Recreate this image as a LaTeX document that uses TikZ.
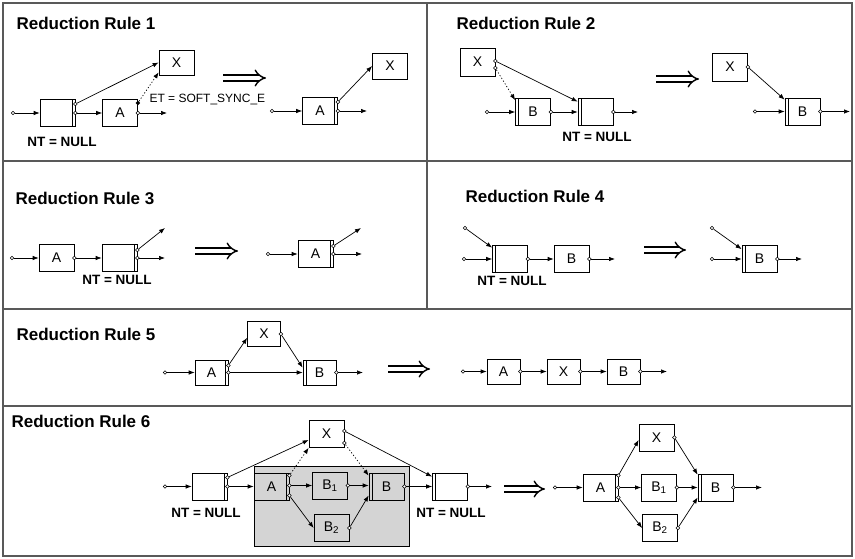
\documentclass[tikz,border=0pt]{standalone}
\usepackage{fontspec}
\setmainfont{Liberation Sans}
\usetikzlibrary{arrows.meta}
\tikzset{
  blk/.style={draw, line width=0.7pt, minimum width=35pt, minimum height=27pt, inner sep=0pt, font=\fontsize{14}{14}\selectfont},
  sm/.style={minimum width=33pt, minimum height=25pt},
  dblr/.style={blk, path picture={\draw[line width=0.6pt] ([xshift=-3pt]path picture bounding box.north east) -- ([xshift=-3pt]path picture bounding box.south east);}},
  dbll/.style={blk, path picture={\draw[line width=0.6pt] ([xshift=3pt]path picture bounding box.north west) -- ([xshift=3pt]path picture bounding box.south west);}},
  port/.style={circle, draw, fill=white, line width=0.5pt, inner sep=0pt, minimum size=3.6pt},
  arr/.style={-{Latex[length=6pt,width=4.5pt]}, line width=0.7pt},
  darr/.style={arr, dash pattern=on 1.2pt off 2pt},
  title/.style={anchor=base west, font=\bfseries\fontsize{17}{17}\selectfont},
  nt/.style={font=\bfseries\fontsize{13.5}{13.5}\selectfont},
  impl/.style={double, double distance=4.5pt, line width=1.4pt, -{Implies[length=9pt, width=17pt]}},
  frame/.style={draw=black!65, line width=1.5pt}
}
\begin{document}
\begin{tikzpicture}[x=1pt,y=-1pt]
  \useasboundingbox (0,0) rectangle (855,559);
  \draw[frame] (3,3) rectangle (852,556);
  \draw[frame] (3,161) -- (852,161);
  \draw[frame] (3,309) -- (852,309);
  \draw[frame] (3,406) -- (852,406);
  \draw[frame] (427,3) -- (427,309);

  % rule 1
  \node[title] (t1) at (13,30) {Reduction Rule 1};
  \node[port] (i1) at (13,113) {};
  \node[dblr] (n1) at (57.5,113) {};
  \node[blk] (a1) at (120,113) {A};
  \node[blk, minimum height=25pt] (x1) at (176.5,62.5) {X};
  \node[port] (n1u) at ([yshift=9pt]n1.east) {};
  \node[port] (n1d) at (n1.east) {};
  \node[port, fill=black] (a1u) at ([yshift=10pt]a1.east) {};
  \node[port] (a1d) at (a1.east) {};
  \coordinate (o1) at (167,113);
  \draw[arr] (i1) -- (n1.west);
  \draw[arr] (n1u) -- (x1.west);
  \draw[arr] (n1d) -- (a1.west);
  \draw[darr] (a1u) -- ([yshift=3pt]x1.south west);
  \draw[arr] (a1d) -- (o1);
  \node[anchor=west, font=\fontsize{12}{12}\selectfont] (et1) at (146,100) {ET = SOFT\_SYNC\_E};
  \node[nt] (nt1) at (62,142) {NT = NULL};
  \coordinate (r1s) at (223,78);
  \coordinate (r1e) at (266,78);
  \draw[impl] (r1s) -- (r1e);
  \node[port] (i1b) at (272,111) {};
  \node[dblr] (a1b) at (320,111) {A};
  \node[blk, minimum height=26pt] (x1b) at (390,66) {X};
  \node[port] (a1bu) at ([yshift=9pt]a1b.east) {};
  \node[port] (a1bd) at (a1b.east) {};
  \coordinate (o1b) at (367,111);
  \draw[arr] (i1b) -- (a1b.west);
  \draw[arr] (a1bu) -- (x1b.west);
  \draw[arr] (a1bd) -- (o1b);

  % rule 2
  \node[title] (t2) at (453,30) {Reduction Rule 2};
  \node[blk, minimum height=28pt] (x2) at (477.5,62) {X};
  \node[dbll] (b2) at (533,112) {B};
  \node[dbll] (n2) at (595.5,112) {};
  \node[port] (x2u) at ([yshift=1pt]x2.east) {};
  \node[port] (x2d) at ([yshift=-6pt]x2.east) {};
  \node[port] (i2) at (487,112) {};
  \node[port] (b2o) at (b2.east) {};
  \node[port] (n2o) at (n2.east) {};
  \coordinate (o2) at (638,112);
  \draw[arr] (x2u) -- ([yshift=-3.5pt]n2.north west);
  \draw[darr] (x2d) -- ([yshift=-2pt]b2.north west);
  \draw[arr] (i2) -- (b2.west);
  \draw[arr] (b2o) -- (n2.west);
  \draw[arr] (n2o) -- (o2);
  \node[nt] (nt2) at (597,137) {NT = NULL};
  \coordinate (r2s) at (656,79);
  \coordinate (r2e) at (699,79);
  \draw[impl] (r2s) -- (r2e);
  \node[blk, minimum height=28pt] (x2b) at (730,67) {X};
  \node[dbll] (b2b) at (802.5,111.5) {B};
  \node[port] (x2bo) at (x2b.east) {};
  \node[port] (i2b) at (755,111.5) {};
  \node[port] (b2bo) at (b2b.east) {};
  \coordinate (o2b) at (850,111.5);
  \draw[arr] (x2bo) -- ([yshift=-2pt]b2b.north west);
  \draw[arr] (i2b) -- (b2b.west);
  \draw[arr] (b2bo) -- (o2b);

  % rule 3
  \node[title] (t3) at (12,205) {Reduction Rule 3};
  \node[port] (i3) at (12,258) {};
  \node[blk] (a3) at (56.5,258) {A};
  \node[dblr] (n3) at (119.5,258) {};
  \node[port] (a3o) at (a3.east) {};
  \node[port] (n3u) at ([yshift=8pt]n3.east) {};
  \node[port] (n3d) at (n3.east) {};
  \coordinate (o3u) at (165,228);
  \coordinate (o3d) at (165,258);
  \draw[arr] (i3) -- (a3.west);
  \draw[arr] (a3o) -- (n3.west);
  \draw[arr] (n3u) -- (o3u);
  \draw[arr] (n3d) -- (o3d);
  \node[nt] (nt3) at (117,280) {NT = NULL};
  \coordinate (r3s) at (195,251);
  \coordinate (r3e) at (238,251);
  \draw[impl] (r3s) -- (r3e);
  \node[port] (i3b) at (268,254) {};
  \node[dblr] (a3b) at (315.5,254) {A};
  \node[port] (a3bu) at ([yshift=8pt]a3b.east) {};
  \node[port] (a3bd) at (a3b.east) {};
  \coordinate (o3bu) at (361,228);
  \coordinate (o3bd) at (362,254);
  \draw[arr] (i3b) -- (a3b.west);
  \draw[arr] (a3bu) -- (o3bu);
  \draw[arr] (a3bd) -- (o3bd);

  % rule 4
  \node[title] (t4) at (462,203) {Reduction Rule 4};
  \node[port] (i4u) at (465,228) {};
  \node[port] (i4d) at (464,259) {};
  \node[dbll] (n4) at (510,259) {};
  \node[blk] (b4) at (571.5,259) {B};
  \node[port] (n4o) at (n4.east) {};
  \node[port] (b4o) at (b4.east) {};
  \coordinate (o4) at (615,259);
  \draw[arr] (i4u) -- ([yshift=-2.5pt]n4.north west);
  \draw[arr] (i4d) -- (n4.west);
  \draw[arr] (n4o) -- (b4.west);
  \draw[arr] (b4o) -- (o4);
  \node[nt] (nt4) at (512,281) {NT = NULL};
  \coordinate (r4s) at (644,250);
  \coordinate (r4e) at (686,250);
  \draw[impl] (r4s) -- (r4e);
  \node[port] (i4bu) at (712,228) {};
  \node[port] (i4bd) at (712,259) {};
  \node[dbll] (b4b) at (759.5,259) {B};
  \node[port] (b4bo) at (b4b.east) {};
  \coordinate (o4b) at (802,259);
  \draw[arr] (i4bu) -- ([yshift=-4pt]b4b.north west);
  \draw[arr] (i4bd) -- (b4b.west);
  \draw[arr] (b4bo) -- (o4b);

  % rule 5
  \node[title] (t5) at (13,340) {Reduction Rule 5};
  \node[port] (i5) at (165,372.5) {};
  \node[dblr, sm] (a5) at (211.5,372.5) {A};
  \node[blk, sm] (x5) at (264,334) {X};
  \node[dbll, sm] (b5) at (319.5,372.5) {B};
  \node[port] (a5u) at ([yshift=7pt]a5.east) {};
  \node[port] (a5d) at (a5.east) {};
  \node[port] (x5o) at (x5.east) {};
  \node[port] (b5o) at (b5.east) {};
  \coordinate (o5) at (363,372.5);
  \draw[arr] (i5) -- (a5.west);
  \draw[arr] (a5u) -- ([yshift=9pt]x5.south west);
  \draw[arr] (x5o) -- ([yshift=-8pt]b5.north west);
  \draw[arr] (a5d) -- (b5.west);
  \draw[arr] (b5o) -- (o5);
  \coordinate (r5s) at (388,369);
  \coordinate (r5e) at (430,369);
  \draw[impl] (r5s) -- (r5e);
  \node[port] (i5b) at (463,371.5) {};
  \node[blk, sm] (a5b) at (503.5,371.5) {A};
  \node[blk, sm] (x5b) at (563.5,371.5) {X};
  \node[blk, sm] (b5b) at (623.5,371.5) {B};
  \node[port] (a5bo) at (a5b.east) {};
  \node[port] (x5bo) at (x5b.east) {};
  \node[port] (b5bo) at (b5b.east) {};
  \coordinate (o5b) at (667,371.5);
  \draw[arr] (i5b) -- (a5b.west);
  \draw[arr] (a5bo) -- (x5b.west);
  \draw[arr] (x5bo) -- (b5b.west);
  \draw[arr] (b5bo) -- (o5b);

  % rule 6
  \node[title] (t6) at (8,427) {Reduction Rule 6};
  \node[draw, line width=0.7pt, fill=gray!34, minimum width=155pt, minimum height=80pt] (g6) at (331.5,506) {};
  \node[port] (i6) at (165,486.5) {};
  \node[dblr] (n6) at (209.5,486.5) {};
  \node[blk] (x6) at (326.5,434) {X};
  \node[dblr] (a6) at (271.5,486.5) {A};
  \node[blk] (b61) at (330,485.5) {B\textsubscript{1}};
  \node[blk] (b62) at (331.5,528) {B\textsubscript{2}};
  \node[dbll] (b6) at (386.5,486.5) {B};
  \node[dbll] (n62) at (450,486.5) {};
  \node[port] (n6u) at ([yshift=9pt]n6.east) {};
  \node[port] (n6d) at (n6.east) {};
  \node[port] (a6u) at ([yshift=11pt]a6.east) {};
  \node[port] (a6m) at ([yshift=1pt]a6.east) {};
  \node[port] (a6d) at ([yshift=-9pt]a6.east) {};
  \node[port] (x6u) at ([yshift=3pt]x6.east) {};
  \node[port] (x6d) at ([yshift=-9pt]x6.east) {};
  \node[port] (b61o) at (b61.east) {};
  \node[port] (b62o) at (b62.east) {};
  \node[port] (b6o) at (b6.east) {};
  \node[port] (n62o) at (n62.east) {};
  \coordinate (o6) at (492,486.5);
  \draw[arr] (i6) -- (n6.west);
  \draw[arr] (n6u) -- ([yshift=-6pt]x6.west);
  \draw[arr] (n6d) -- (a6.west);
  \draw[darr] (a6u) -- (x6.south west);
  \draw[arr] (a6m) -- (b61.west);
  \draw[arr] (a6d) -- (b62.west);
  \draw[arr] (b61o) -- ([yshift=1pt]b6.west);
  \draw[arr] (b62o) -- ([yshift=-9pt]b6.west);
  \draw[darr] (x6d) -- ([yshift=-3pt]b6.north west);
  \draw[arr] (x6u) -- ([yshift=-4pt]n62.north west);
  \draw[arr] (b6o) -- (n62.west);
  \draw[arr] (n62o) -- (o6);
  \node[nt] (nt6) at (206,513) {NT = NULL};
  \node[nt] (nt6b) at (451,513) {NT = NULL};
  \coordinate (r6s) at (504,489);
  \coordinate (r6e) at (545,489);
  \draw[impl] (r6s) -- (r6e);
  \node[port] (i6b) at (555,487.5) {};
  \node[dblr] (a6b) at (600.5,487.5) {A};
  \node[blk] (x6b) at (656.5,437.5) {X};
  \node[blk] (b61b) at (659,487.5) {B\textsubscript{1}};
  \node[blk] (b62b) at (660,528) {B\textsubscript{2}};
  \node[dbll] (b6b) at (715.5,487.5) {B};
  \node[port] (a6bu) at ([yshift=12pt]a6b.east) {};
  \node[port] (a6bm) at (a6b.east) {};
  \node[port] (a6bd) at ([yshift=-10pt]a6b.east) {};
  \node[port] (x6bo) at (x6b.east) {};
  \node[port] (b61bo) at (b61b.east) {};
  \node[port] (b62bo) at (b62b.east) {};
  \node[port] (b6bo) at (b6b.east) {};
  \coordinate (o6b) at (762,487.5);
  \draw[arr] (i6b) -- (a6b.west);
  \draw[arr] (a6bu) -- ([yshift=-2.5pt]x6b.west);
  \draw[arr] (a6bm) -- (b61b.west);
  \draw[arr] (a6bd) -- (b62b.west);
  \draw[arr] (x6bo) -- ([yshift=-1pt]b6b.north west);
  \draw[arr] (b61bo) -- (b6b.west);
  \draw[arr] (b62bo) -- ([yshift=-10pt]b6b.west);
  \draw[arr] (b6bo) -- (o6b);
\end{tikzpicture}
\end{document}
